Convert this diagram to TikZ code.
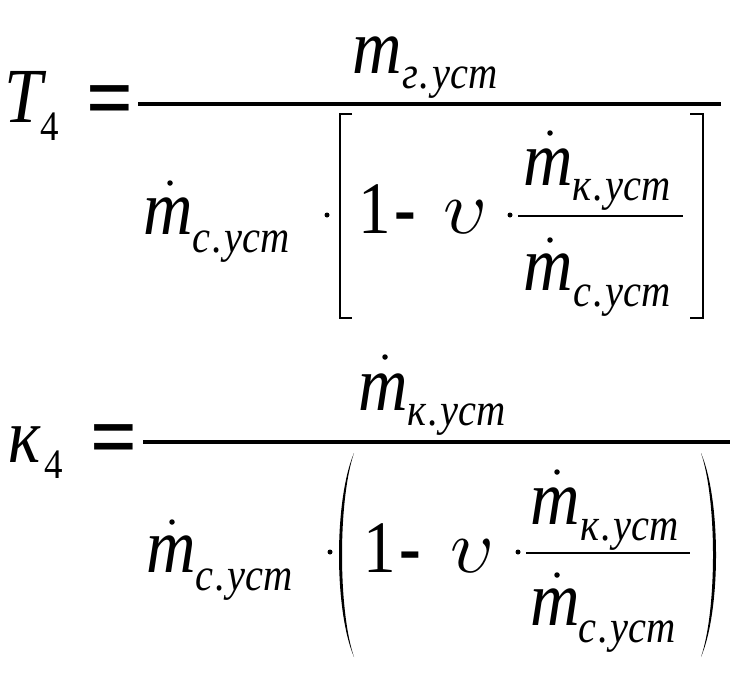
\documentclass[tikz,border=0pt]{standalone}
\usepackage{fontspec}
\setmainfont[FakeStretch=0.88]{Liberation Serif}
\tikzset{
    big-sym/.style = {inner sep=0pt, anchor=base west, font=\fontsize{78}{78}\selectfont\itshape},
    big-num/.style = {inner sep=0pt, anchor=base west, font=\fontsize{74}{74}\selectfont},
    eq-sign/.style = {inner sep=0pt, anchor=base west, font=\fontsize{94}{94}\selectfont\bfseries},
    sub-sym/.style = {inner sep=0pt, anchor=base west, font=\fontsize{46}{46}\selectfont\itshape},
    sub-num/.style = {inner sep=0pt, anchor=base west, font=\fontsize{42}{42}\selectfont},
    over-dot/.style = {circle, fill=black, inner sep=0pt, minimum size=5.5pt},
    times-dot/.style = {circle, fill=black, inner sep=0pt, minimum size=5pt},
    main-bar/.style = {line width=3.5pt},
    inner-bar/.style = {line width=1.2pt},
    fence/.style = {line width=2.4pt},
}
\newcommand\subdot{\kern2pt.\kern2pt}
\newcommand\bigups{\scalebox{7.6}{\fontsize{10}{10}\selectfont$\upsilon$}}
\begin{document}
\begin{tikzpicture}[x=1pt, y=-1pt]
\useasboundingbox (0,0) rectangle (743,673);

\node[big-sym] (T) at (4,122) {T};
\node[sub-num] (T-4) at (40,140) {4};
\node[eq-sign] (eq-1) at (86,129) {=};
\draw[main-bar] (138,104) -- (721,104);
\node[big-sym] (m-g) at (352,73) {m};
\node[sub-sym] (m-g-sub) at (402,88) {г\subdot уст};
\node[big-sym] (m-c) at (143,234) {m};
\node[over-dot] (m-c-dot) at (170,183) {};
\node[sub-sym] (m-c-sub) at (192,252) {с\subdot уст};
\node[times-dot] (mul-1) at (327,215) {};
\draw[fence] (352,114) -- (340,114) -- (340,318) -- (352,318);
\node[big-num] (one-1) at (358,233) {1};
\node[big-num, font=\fontsize{74}{74}\selectfont\bfseries] (minus-1) at (394,233) {-};
\node[big-sym] (nu-1) at (443,233) {\bigups};
\node[times-dot] (mul-2) at (510,215) {};
\draw[inner-bar] (518,216) -- (683,216);
\node[big-sym] (m-k-1) at (523,185) {m};
\node[over-dot] (m-k-1-dot) at (550,133) {};
\node[sub-sym] (m-k-1-sub) at (572,200) {к\subdot уст};
\node[big-sym] (m-c-1) at (523,290) {m};
\node[over-dot] (m-c-1-dot) at (550,240) {};
\node[sub-sym] (m-c-1-sub) at (573,306) {с\subdot уст};
\draw[fence] (690,114) -- (703,114) -- (703,318) -- (690,318);

\node[big-sym] (k) at (8,462) {к};
\node[sub-num] (k-4) at (44,478) {4};
\node[eq-sign] (eq-2) at (90,468) {=};
\draw[main-bar] (143,442) -- (730,442);
\node[big-sym] (m-k) at (358,410) {m};
\node[over-dot] (m-k-dot) at (385,357) {};
\node[sub-sym] (m-k-sub) at (407,425) {к\subdot уст};
\node[big-sym] (m-c-2) at (146,572) {m};
\node[over-dot] (m-c-2-dot) at (172,522) {};
\node[sub-sym] (m-c-2-sub) at (195,590) {с\subdot уст};
\node[times-dot] (mul-3) at (330,552) {};
\fill (354,453) .. controls (334,500) and (334,610) .. (354,657) .. controls (338,610) and (338,500) .. (354,453) -- cycle;
\node[big-num] (one-2) at (363,572) {1};
\node[big-num, font=\fontsize{74}{74}\selectfont\bfseries] (minus-2) at (399,572) {-};
\node[big-sym] (nu-2) at (450,572) {\bigups};
\node[times-dot] (mul-4) at (518,552) {};
\draw[inner-bar] (526,553) -- (690,553);
\node[big-sym] (m-k-2) at (530,524) {m};
\node[over-dot] (m-k-2-dot) at (557,472) {};
\node[sub-sym] (m-k-2-sub) at (580,540) {к\subdot уст};
\node[big-sym] (m-c-3) at (530,625) {m};
\node[over-dot] (m-c-3-dot) at (557,575) {};
\node[sub-sym] (m-c-3-sub) at (578,642) {с\subdot уст};
\fill (701,453) .. controls (721,500) and (721,610) .. (701,657) .. controls (717,610) and (717,500) .. (701,453) -- cycle;
\end{tikzpicture}
\end{document}
